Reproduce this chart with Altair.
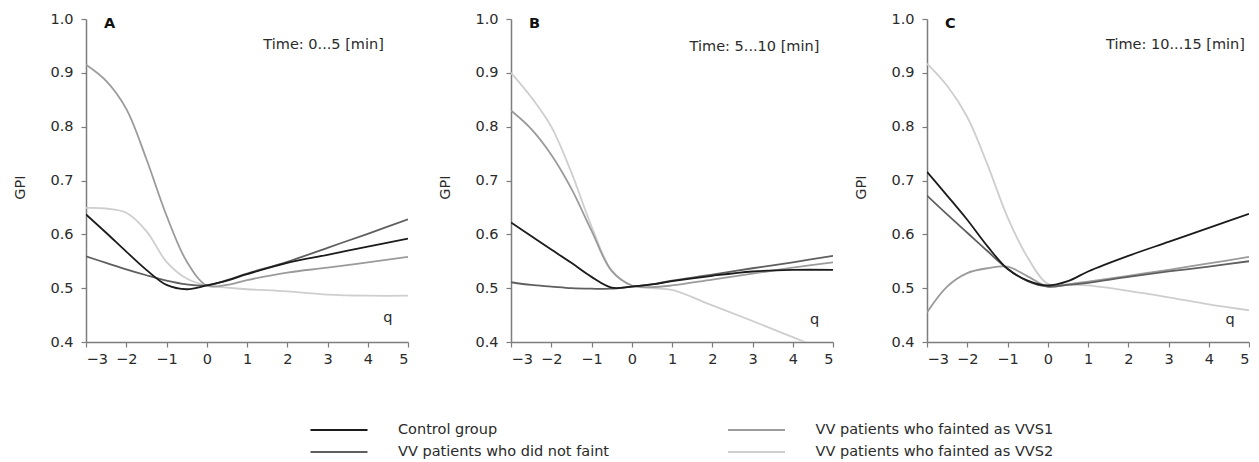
import altair as alt
import pandas as pd

# ---------------- data ----------------
Q = [-3, -2.5, -2, -1.5, -1, -0.5, 0, 0.5, 1, 2, 3, 4, 5]

SERIES = ["Control group", "VV patients who did not faint",
          "VV patients who fainted as VVS1", "VV patients who fainted as VVS2"]
COLORS = ["#1b1b1b", "#5f5f5f", "#9b9b9b", "#cecece"]

A_CONTROL = [0.637, 0.603, 0.568, 0.534, 0.506, 0.498, 0.505, 0.514, 0.526, 0.547, 0.562, 0.577, 0.592]
A_NOFAINT = [0.559, 0.547, 0.535, 0.524, 0.514, 0.507, 0.505, 0.515, 0.527, 0.549, 0.575, 0.601, 0.628]
A_VVS1 = [0.915, 0.885, 0.833, 0.740, 0.635, 0.550, 0.505, 0.506, 0.515, 0.529, 0.538, 0.548, 0.558]
A_VVS2 = [0.649, 0.648, 0.640, 0.606, 0.549, 0.518, 0.505, 0.501, 0.498, 0.494, 0.488, 0.486, 0.486]

B_CONTROL = [0.622, 0.597, 0.572, 0.547, 0.521, 0.501, 0.503, 0.507, 0.513, 0.523, 0.531, 0.534, 0.534]
B_NOFAINT = [0.511, 0.506, 0.503, 0.500, 0.499, 0.499, 0.503, 0.507, 0.514, 0.525, 0.537, 0.548, 0.560]
B_VVS1 = [0.830, 0.796, 0.748, 0.685, 0.607, 0.532, 0.505, 0.502, 0.505, 0.516, 0.527, 0.538, 0.548]
B_VVS2 = [0.900, 0.855, 0.800, 0.715, 0.615, 0.533, 0.505, 0.500, 0.497, 0.468, 0.439, 0.409, 0.379]

C_CONTROL = [0.716, 0.672, 0.627, 0.578, 0.536, 0.514, 0.505, 0.513, 0.531, 0.560, 0.586, 0.612, 0.638]
C_NOFAINT = [0.672, 0.637, 0.603, 0.569, 0.536, 0.513, 0.503, 0.506, 0.510, 0.521, 0.531, 0.540, 0.550]
C_VVS1 = [0.455, 0.503, 0.528, 0.537, 0.540, 0.522, 0.503, 0.507, 0.512, 0.523, 0.534, 0.546, 0.558]
C_VVS2 = [0.917, 0.876, 0.818, 0.730, 0.632, 0.557, 0.508, 0.507, 0.505, 0.495, 0.483, 0.470, 0.459]

PANEL_SERIES = [
    [A_CONTROL, A_NOFAINT, A_VVS1, A_VVS2],
    [B_CONTROL, B_NOFAINT, B_VVS1, B_VVS2],
    [C_CONTROL, C_NOFAINT, C_VVS1, C_VVS2],
]

PANEL_LETTERS = ["A", "B", "C"]
TIME_LABELS = ["Time: 0...5 [min]", "Time: 5...10 [min]", "Time: 10...15 [min]"]
LETTER_Q = [-2.55, -2.55, -2.55]
LETTER_V = [0.991, 0.991, 0.991]
TIME_Q = [4.40, 4.66, 4.90]
TIME_V = [0.951, 0.948, 0.951]
QLAB_Q = [4.50, 4.54, 4.53]
QLAB_V = [0.445, 0.440, 0.440]

X_TICKS = [-3, -2, -1, 0, 1, 2, 3, 4, 5]
Y_TICKS = [0.4, 0.5, 0.6, 0.7, 0.8, 0.9, 1.0]

LEG_COL = [0, 0, 1, 1]
LEG_ROW = [0, 1, 0, 1]

FONT = "DejaVu Sans"
FS = 14.5
AXIS_GRAY = "#7d7d7d"
TEXT = "#2a2a2a"

xscale = alt.Scale(domain=[-3, 5], nice=False, zero=False)
yscale = alt.Scale(domain=[0.4, 1.0], nice=False, zero=False)
cscale = alt.Scale(domain=SERIES, range=COLORS)

XAX = alt.Axis(values=X_TICKS, format="d", title=None, grid=False,
               tickSize=5, labelPadding=5, domainColor=AXIS_GRAY,
               tickColor=AXIS_GRAY, domainWidth=1.5, tickWidth=1.2,
               labelFontSize=FS, labelColor=TEXT, labelFont=FONT)
YAX = alt.Axis(values=Y_TICKS, format=".1f", title="GPI", grid=False,
               tickSize=5, labelPadding=8, domainColor=AXIS_GRAY,
               tickColor=AXIS_GRAY, domainWidth=1.5, tickWidth=1.2,
               labelFontSize=FS, labelColor=TEXT, labelFont=FONT,
               titleFontSize=FS, titleFontWeight="normal", titleColor=TEXT,
               titleFont=FONT, titleX=-66, titleY=168,
               titleBaseline="middle", titleAngle=270)


def xy():
    return dict(x=alt.X("q:Q", scale=xscale, axis=XAX, title=None),
                y=alt.Y("GPI:Q", scale=yscale, axis=YAX, title="GPI"))


def panel(i):
    rows = []
    # draw lightest first so the darker lines are on top
    for k in [3, 2, 1, 0]:
        for q, v in zip(Q, PANEL_SERIES[i][k]):
            rows.append({"q": q, "GPI": v, "series": SERIES[k]})
    df = pd.DataFrame(rows)

    lines = alt.Chart(df).mark_line(strokeWidth=1.8, interpolate="catmull-rom", clip=True).encode(
        color=alt.Color("series:N", scale=cscale, legend=None),
        detail="series:N",
        **xy(),
    )

    ann = pd.DataFrame({"q": [LETTER_Q[i]], "GPI": [LETTER_V[i]], "label": [PANEL_LETTERS[i]]})
    letter = alt.Chart(ann).mark_text(align="left", baseline="middle", fontWeight="bold",
                                      fontSize=FS, font=FONT, color="#111111").encode(
        text="label:N", **xy())

    tdf = pd.DataFrame({"q": [TIME_Q[i]], "GPI": [TIME_V[i]], "label": [TIME_LABELS[i]]})
    time = alt.Chart(tdf).mark_text(align="right", baseline="middle",
                                    fontSize=FS, font=FONT, color=TEXT).encode(
        text="label:N", **xy())

    qdf = pd.DataFrame({"q": [QLAB_Q[i]], "GPI": [QLAB_V[i]], "label": ["q"]})
    qlab = alt.Chart(qdf).mark_text(align="center", baseline="middle",
                                    fontSize=FS, font=FONT, color=TEXT).encode(
        text="label:N", **xy())

    return alt.layer(lines, letter, time, qlab).properties(width=322, height=323)


legdf = pd.DataFrame({"series": SERIES, "col": LEG_COL, "row": LEG_ROW})
leg_x = alt.X("col:Q", scale=alt.Scale(domain=[0, 1], range=[253, 670.5]), axis=None)
leg_y = alt.Y("row:Q", scale=alt.Scale(domain=[0, 1], range=[64, 86]), axis=None)
leg_sym = alt.Chart(legdf).mark_point(shape="stroke", size=3249, strokeWidth=2,
                                      filled=False, opacity=1).encode(
    x=leg_x, y=leg_y,
    color=alt.Color("series:N", scale=cscale, legend=None))
leg_txt = alt.Chart(legdf).mark_text(align="left", baseline="middle", dx=59,
                                     fontSize=FS, font=FONT, color=TEXT).encode(
    x=leg_x, y=leg_y, text="series:N")
legend = alt.layer(leg_sym, leg_txt).properties(width=900, height=86)

row = alt.hconcat(alt.hconcat(panel(0), panel(1), spacing=28), panel(2), spacing=19)

chart = alt.vconcat(row, legend, spacing=0).properties(
    padding={"left": 4, "top": 3, "right": 0, "bottom": 0}
).configure(font=FONT).configure_view(stroke=None)

chart.save("out.html", embed_options={"renderer": "svg", "actions": False})
